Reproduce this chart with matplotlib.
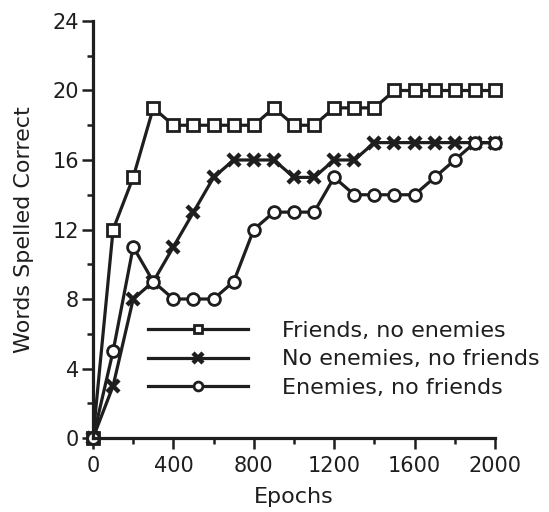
import matplotlib.pyplot as plt
from matplotlib.ticker import MultipleLocator

plt.rcParams['font.family'] = ['DejaVu Sans']

epochs = list(range(0, 2001, 100))
friends = [0, 12, 15, 19, 18, 18, 18, 18, 18, 19, 18, 18, 19, 19, 19, 20, 20, 20, 20, 20, 20]
no_enemies = [0, 3, 8, 9, 11, 13, 15, 16, 16, 16, 15, 15, 16, 16, 17, 17, 17, 17, 17, 17, 17]
enemies = [0, 5, 11, 9, 8, 8, 8, 9, 12, 13, 13, 13, 15, 14, 14, 14, 14, 15, 16, 17, 17]

labels = ['Friends, no enemies', 'No enemies, no friends', 'Enemies, no friends']

ink = '#1e1e1e'
fig = plt.figure(figsize=(5.49, 5.12), dpi=100)
ax = fig.add_axes([0.1694, 0.1445, 0.7322, 0.8145])

style = dict(color=ink, lw=2.3, clip_on=False)
ax.plot(epochs, no_enemies, marker='x', ms=9, mew=3.2, label=labels[1], **style)
ax.plot(epochs, friends, marker='s', ms=8.5, mfc='white', mec=ink, mew=2, label=labels[0], **style)
ax.plot(epochs, enemies, marker='o', ms=8.5, mfc='white', mec=ink, mew=2, label=labels[2], **style)

ax.set_xlim(0, 2000)
ax.set_ylim(0, 24)
ax.xaxis.set_major_locator(MultipleLocator(400))
ax.xaxis.set_minor_locator(MultipleLocator(200))
ax.yaxis.set_major_locator(MultipleLocator(4))
ax.yaxis.set_minor_locator(MultipleLocator(2))
for s in ['top', 'right']:
    ax.spines[s].set_visible(False)
for s in ['left', 'bottom']:
    ax.spines[s].set_linewidth(2.3)
    ax.spines[s].set_color(ink)
ax.tick_params(which='major', direction='out', length=8, width=1.8, color=ink,
               labelsize=15, labelcolor=ink, pad=2)
ax.tick_params(axis='x', which='major', pad=5)
ax.tick_params(which='minor', direction='out', length=4.5, width=1.8, color=ink)

ax.set_xlabel('Epochs', fontsize=16, color=ink)
ax.set_ylabel('Words Spelled Correct', fontsize=16, color=ink)
ax.xaxis.set_label_coords(0.5, -0.118)
ax.yaxis.set_label_coords(-0.147, 0.5)

h, l = ax.get_legend_handles_labels()
order = [1, 0, 2]
ax.legend([h[i] for i in order], [l[i] for i in order], loc='upper left',
          bbox_to_anchor=(0.114, 0.302), frameon=False, fontsize=16,
          handlelength=4.5, handletextpad=1.55, labelspacing=0.38,
          numpoints=1, borderaxespad=0, markerscale=0.75, labelcolor=ink)

fig.savefig('out.png', dpi=100)
